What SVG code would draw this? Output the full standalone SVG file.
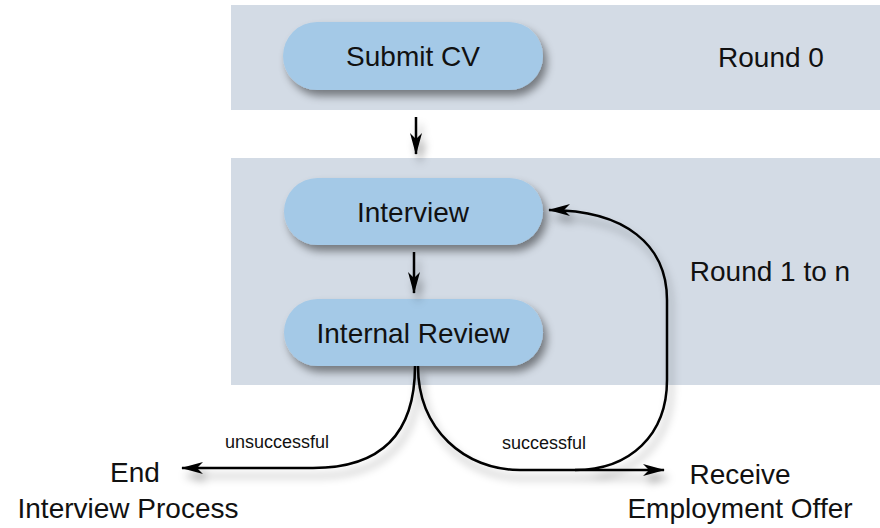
<svg xmlns="http://www.w3.org/2000/svg" width="880" height="528" viewBox="0 0 880 528">
  <defs>
    <filter id="shadow" x="-20%" y="-20%" width="150%" height="160%">
      <feDropShadow dx="4" dy="6" stdDeviation="4" flood-color="#000" flood-opacity="0.45"/>
    </filter>
    <filter id="lineShadow" x="-20%" y="-20%" width="150%" height="160%">
      <feDropShadow dx="4" dy="8" stdDeviation="4" flood-color="#000" flood-opacity="0.35"/>
    </filter>
    <marker id="arrow" viewBox="0 0 22 12" refX="21" refY="6" markerWidth="22" markerHeight="12" markerUnits="userSpaceOnUse" orient="auto">
      <path d="M0,0 L22,6 L0,12 L6,6 Z" fill="#000"/>
    </marker>
    <style>
      .band { fill: #d3dbe5; }
      .pill { fill: #a4c9e7; filter: url(#shadow); }
      .label { font-family: "Liberation Sans", Arial, sans-serif; fill: #111; text-anchor: middle; }
      .node { font-size: 28px; }
      .side { font-size: 28px; }
      .small { font-size: 18px; }
      .edge { fill: none; stroke: #000; stroke-width: 2.5; }
    </style>
  </defs>

  <!-- round bands -->
  <rect class="band" x="231" y="5" width="649" height="105"/>
  <rect class="band" x="231" y="158" width="649" height="227"/>
  <text class="label side" x="771" y="67">Round 0</text>
  <text class="label side" x="770" y="281">Round 1 to n</text>

  <!-- nodes -->
  <g id="submit-cv">
    <rect class="pill" x="283" y="22" width="260" height="68" rx="34"/>
    <text class="label node" x="413" y="66">Submit CV</text>
  </g>
  <g id="interview">
    <rect class="pill" x="284" y="178" width="259" height="67" rx="33.5"/>
    <text class="label node" x="413" y="222">Interview</text>
  </g>
  <g id="internal-review">
    <rect class="pill" x="284" y="299" width="259" height="67" rx="33.5"/>
    <text class="label node" x="413" y="343">Internal Review</text>
  </g>
  <g id="end">
    <text class="label side" x="135" y="482">End</text>
    <text class="label side" x="128" y="518">Interview Process</text>
  </g>
  <g id="offer">
    <text class="label side" x="740" y="484">Receive</text>
    <text class="label side" x="740" y="518">Employment Offer</text>
  </g>

  <!-- connectors -->
  <g id="connectors" filter="url(#lineShadow)">
    <path class="edge" d="M416,117 L416,154" marker-end="url(#arrow)"/>
    <path class="edge" d="M414,252 L414,293" marker-end="url(#arrow)"/>
    <path class="edge" d="M415,366 C415,430 385,468 313,468 L182,468" marker-end="url(#arrow)"/>
    <path class="edge" d="M418,366 C418,430 465,470 520,470 L664,470" marker-end="url(#arrow)"/>
    <path class="edge" d="M575,470 C630,470 667,435 667,380 L667,300 C667,245 625,210 549,210" marker-end="url(#arrow)"/>
  </g>
  <text class="label small" x="277" y="448">unsuccessful</text>
  <text class="label small" x="544" y="449">successful</text>
</svg>
